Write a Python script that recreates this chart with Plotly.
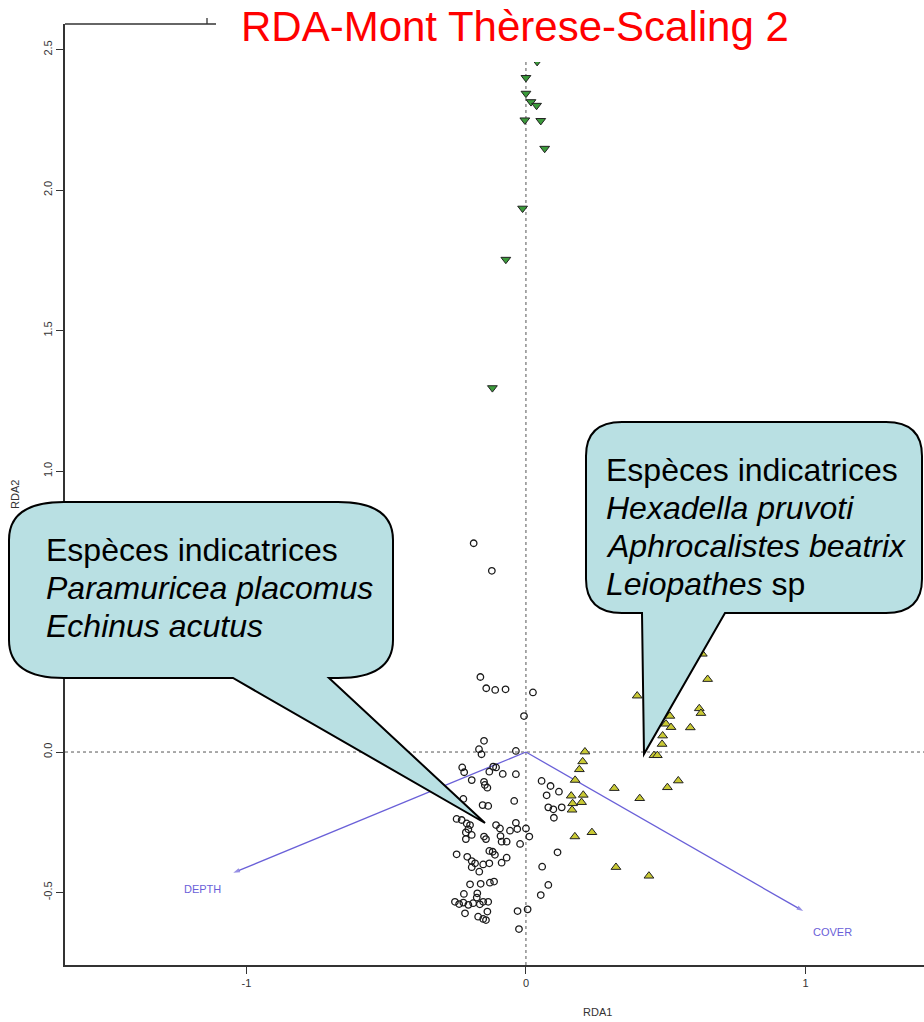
import plotly.graph_objects as go

# ---------------- data ----------------
# group 1: open circles (sites)
circle_x = [-0.187, -0.122, -0.163, -0.142, -0.110, -0.073, 0.025, -0.007,
            -0.150, -0.168, -0.159, -0.036, -0.228, -0.221, -0.117, -0.107, -0.131, -0.083,
            -0.036, -0.194, -0.150, -0.147, -0.138, 0.056, 0.088, 0.118, 0.074, -0.224,
            -0.042, -0.155, -0.135, 0.080, 0.098, 0.128, 0.100, -0.248, -0.230, -0.212,
            -0.200, -0.206, -0.215, -0.194, -0.215, -0.107, -0.093, -0.036, -0.057, -0.031,
            0.000, 0.012, -0.150, -0.143, -0.091, -0.087, -0.069, -0.021, -0.248, -0.210,
            -0.194, -0.182, -0.194, -0.153, -0.131, -0.131, -0.119, -0.111, -0.087, -0.069,
            -0.167, 0.113, 0.058, -0.200, -0.162, -0.129, -0.114, 0.080, 0.053, -0.222,
            -0.174, -0.176, -0.254, -0.239, -0.224, -0.206, -0.189, -0.165, -0.153, -0.135,
            -0.218, -0.171, -0.153, -0.138, -0.143, -0.030, 0.006, -0.025]
circle_y = [0.743, 0.645, 0.267, 0.227, 0.221, 0.223, 0.212, 0.128,
            0.040, 0.010, -0.008, 0.004, -0.055, -0.072, -0.052, -0.055, -0.070, -0.078,
            -0.079, -0.100, -0.106, -0.117, -0.127, -0.103, -0.121, -0.141, -0.154, -0.167,
            -0.174, -0.189, -0.192, -0.197, -0.204, -0.197, -0.234, -0.238, -0.242, -0.254,
            -0.260, -0.275, -0.286, -0.295, -0.310, -0.260, -0.272, -0.252, -0.280, -0.274,
            -0.272, -0.301, -0.301, -0.310, -0.299, -0.319, -0.319, -0.327, -0.364, -0.373,
            -0.388, -0.396, -0.410, -0.400, -0.396, -0.352, -0.355, -0.366, -0.394, -0.376,
            -0.426, -0.357, -0.408, -0.471, -0.469, -0.465, -0.461, -0.473, -0.509, -0.505,
            -0.503, -0.518, -0.533, -0.541, -0.536, -0.544, -0.538, -0.542, -0.533, -0.533,
            -0.574, -0.586, -0.594, -0.568, -0.598, -0.566, -0.560, -0.630]

# group 2: yellow triangles
yellow_x = [0.398, 0.650, 0.631, 0.620, 0.626, 0.515, 0.501, 0.519, 0.588, 0.489,
            0.487, 0.458, 0.470, 0.211, 0.203, 0.191, 0.176, 0.545, 0.506, 0.316,
            0.162, 0.205, 0.167, 0.199, 0.165, 0.407, 0.175, 0.236, 0.322, 0.440]
yellow_y = [0.200, 0.259, 0.349, 0.155, 0.138, 0.128, 0.100, 0.088, 0.087, 0.058,
            0.028, -0.012, -0.012, 0.001, -0.034, -0.062, -0.100, -0.102, -0.126, -0.129,
            -0.156, -0.153, -0.183, -0.179, -0.206, -0.165, -0.301, -0.286, -0.410, -0.441]

# group 3: green triangles
green_x = [0.040, 0.000, 0.000, 0.018, 0.038, -0.004, 0.053, 0.067, -0.012, -0.072, -0.120]
green_y = [2.457, 2.400, 2.344, 2.314, 2.301, 2.249, 2.247, 2.148, 1.935, 1.753, 1.296]

# environmental variables (biplot arrows)
env_names = ["DEPTH", "COVER"]
env_x = [-1.047, 0.992]
env_y = [-0.430, -0.566]

x_ticks = [-1, 0, 1]
x_ticklabels = ["-1", "0", "1"]
y_ticks = [-0.5, 0.0, 0.5, 1.0, 1.5, 2.0, 2.5]
y_ticklabels = ["-0.5", "0.0", "0.5", "1.0", "1.5", "2.0", "2.5"]

title_text = "RDA-Mont Thèrese-Scaling 2"
left_callout_lines = ["Espèces indicatrices", "<i>Paramuricea placomus</i>", "<i>Echinus acutus</i>"]
right_callout_lines = ["Espèces indicatrices", "<i>Hexadella pruvoti</i>",
                       "<i>Aphrocalistes beatrix</i>", "<i>Leiopathes</i> sp"]

# ---------------- layout geometry ----------------
W, H = 924, 1022
PL, PR, PT, PB = 65, 924, 24, 965      # plot-area edges in pixels
X_RANGE = [-1.649, 1.424]
Y_RANGE = [-0.758, 2.591]


def px(p):
    return (p - PL) / (PR - PL)


def py(q):
    return (PB - q) / (PB - PT)


FONT = "Liberation Sans, Arial, Helvetica, sans-serif"
ARROW_COL = "#6a60d8"
AXIS_COL = "#333333"

fig = go.Figure()

# arrows
for name, ex, ey in zip(env_names, env_x, env_y):
    fig.add_trace(go.Scatter(
        x=[0, ex], y=[0, ey], mode="lines+markers",
        line=dict(color=ARROW_COL, width=1.3),
        marker=dict(symbol=["circle", "arrow"], size=[0, 7], angleref="previous",
                    color=ARROW_COL, line=dict(width=0)),
        hoverinfo="skip", showlegend=False))

fig.add_trace(go.Scatter(
    x=circle_x, y=circle_y, mode="markers",
    marker=dict(symbol="circle-open", size=6.5, color="#1a1a1a", line=dict(width=1.3)),
    showlegend=False))
fig.add_trace(go.Scatter(
    x=yellow_x, y=yellow_y, mode="markers",
    marker=dict(symbol="triangle-up", size=8.5, color="#c9c934",
                line=dict(color="#222222", width=1)),
    showlegend=False))
fig.add_trace(go.Scatter(
    x=green_x, y=green_y, mode="markers",
    marker=dict(symbol="triangle-down", size=8.5, color="#3b9b3b",
                line=dict(color="#222222", width=1)),
    showlegend=False))

shapes = []
# dotted reference lines
shapes.append(dict(type="line", xref="x", yref="paper", x0=0, x1=0, y0=0, y1=1,
                   line=dict(color="#555555", width=1, dash="dot"), layer="below"))
shapes.append(dict(type="line", xref="paper", yref="y", x0=0, x1=1, y0=0, y1=0,
                   line=dict(color="#555555", width=1, dash="dot"), layer="below"))
# white title box that hides the top of the frame
shapes.append(dict(type="rect", xref="paper", yref="paper",
                   x0=px(215), x1=px(930), y0=py(-5), y1=py(62),
                   fillcolor="white", line=dict(width=0), layer="above"))
# top frame segment and tick
shapes.append(dict(type="line", xref="paper", yref="paper", x0=px(65), x1=px(216),
                   y0=py(24), y1=py(24), line=dict(color=AXIS_COL, width=1.3), layer="above"))
shapes.append(dict(type="line", xref="paper", yref="paper", x0=px(207), x1=px(207),
                   y0=py(18), y1=py(24), line=dict(color=AXIS_COL, width=1.3), layer="above"))


def callout_path(x0, y0, x1, y1, r, tail_l, tail_r, tip):
    rx, ry = r
    d = "M {} {} ".format(px(x0 + rx), py(y0))
    d += "L {} {} ".format(px(x1 - rx), py(y0))
    d += "Q {} {} {} {} ".format(px(x1), py(y0), px(x1), py(y0 + ry))
    d += "L {} {} ".format(px(x1), py(y1 - ry))
    d += "Q {} {} {} {} ".format(px(x1), py(y1), px(x1 - rx), py(y1))
    d += "L {} {} ".format(px(tail_r), py(y1))
    d += "L {} {} ".format(px(tip[0]), py(tip[1]))
    d += "L {} {} ".format(px(tail_l), py(y1))
    d += "L {} {} ".format(px(x0 + rx), py(y1))
    d += "Q {} {} {} {} ".format(px(x0), py(y1), px(x0), py(y1 - ry))
    d += "L {} {} ".format(px(x0), py(y0 + ry))
    d += "Q {} {} {} {} Z".format(px(x0), py(y0), px(x0 + rx), py(y0))
    return d


CALLOUT_FILL = "#b9e0e3"
shapes.append(dict(type="path", xref="paper", yref="paper",
                   path=callout_path(9, 502, 393, 678, (55, 38), 233, 329, (485, 823)),
                   fillcolor=CALLOUT_FILL, line=dict(color="black", width=2), layer="above"))
shapes.append(dict(type="path", xref="paper", yref="paper",
                   path=callout_path(586, 422, 922, 613, (36, 34), 642, 725, (644, 754)),
                   fillcolor=CALLOUT_FILL, line=dict(color="black", width=2), layer="above"))

annotations = []
annotations.append(dict(text=title_text, xref="paper", yref="paper", x=px(515), y=py(27),
                        xanchor="center", yanchor="middle", showarrow=False,
                        font=dict(family=FONT, size=42, color="#ff0000")))
for i, t in enumerate(left_callout_lines):
    annotations.append(dict(text=t, xref="paper", yref="paper", x=px(44), y=py(550 + 38 * i),
                            xanchor="left", yanchor="middle", showarrow=False,
                            font=dict(family=FONT, size=32, color="black")))
for i, t in enumerate(right_callout_lines):
    annotations.append(dict(text=t, xref="paper", yref="paper", x=px(604), y=py(470 + 38 * i),
                            xanchor="left", yanchor="middle", showarrow=False,
                            font=dict(family=FONT, size=32, color="black")))
# env labels
for name, ex, ey in zip(env_names, env_x, env_y):
    annotations.append(dict(text=name, xref="x", yref="y", x=ex * 1.105, y=ey * 1.13,
                            xanchor="center", yanchor="middle", showarrow=False,
                            font=dict(family=FONT, size=11, color=ARROW_COL)))
# axis titles
annotations.append(dict(text="RDA1", xref="paper", yref="paper", x=px(597), y=py(1012),
                        xanchor="center", yanchor="middle", showarrow=False,
                        font=dict(family=FONT, size=11, color=AXIS_COL)))
annotations.append(dict(text="RDA2", xref="paper", yref="paper", x=px(15), y=py(495),
                        xanchor="center", yanchor="middle", showarrow=False, textangle=-90,
                        font=dict(family=FONT, size=11, color=AXIS_COL)))

fig.update_layout(
    width=W, height=H,
    margin=dict(l=PL, r=W - PR, t=PT, b=H - PB, pad=0),
    paper_bgcolor="white", plot_bgcolor="white",
    font=dict(family=FONT, color=AXIS_COL),
    shapes=shapes, annotations=annotations,
    xaxis=dict(range=X_RANGE, tickvals=x_ticks, ticktext=x_ticklabels,
               ticks="outside", ticklen=7, tickwidth=1, tickcolor=AXIS_COL,
               showline=True, linecolor=AXIS_COL, linewidth=1.5,
               showgrid=False, zeroline=False, tickfont=dict(size=11, color=AXIS_COL)),
    yaxis=dict(range=Y_RANGE, tickvals=y_ticks, ticktext=y_ticklabels, tickangle=-90,
               ticks="outside", ticklen=7, tickwidth=1, tickcolor=AXIS_COL,
               showline=True, linecolor=AXIS_COL, linewidth=1.5,
               showgrid=False, zeroline=False, tickfont=dict(size=11, color=AXIS_COL)),
)

# remove the default 8px page margin so the figure fills the window exactly
fig.write_html("out.html",
               config={"displayModeBar": False},
               post_script="document.body.style.margin='0px';document.body.style.overflow='hidden';")
